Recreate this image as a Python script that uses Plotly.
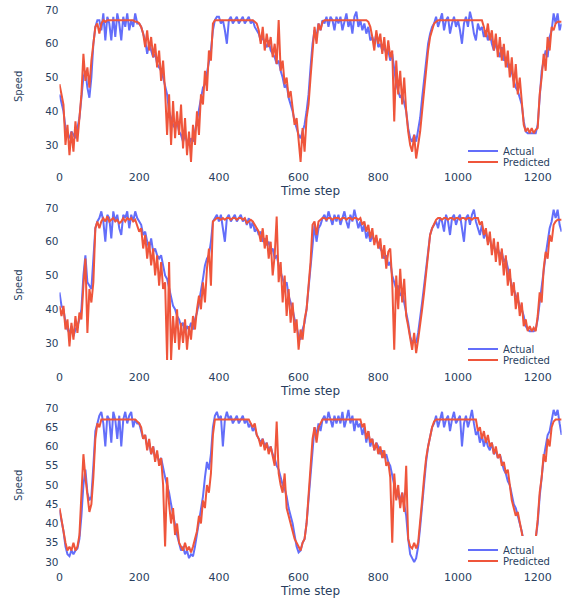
import plotly.graph_objects as go

time_step = list(range(0, 1261, 5))

actual_1 = (
    [45, 42, 40, 35, 33, 32, 34, 33, 32, 35, 38, 44, 50, 52, 47, 44, 50, 60, 65, 67]
    + [67, 64, 69, 61, 68, 66, 61, 68, 62, 69, 66, 61, 68, 65, 69, 64, 67, 65, 69, 66]
    + [66, 65, 63, 61, 57, 60, 58, 56, 57, 54, 53, 52, 50, 47, 45, 40, 38, 36, 35, 37]
    + [34, 33, 31, 33, 31, 30, 32, 31, 34, 37, 41, 44, 47, 48, 51, 54, 58, 64, 67, 68]
    + [68, 66, 67, 64, 60, 67, 68, 66, 67, 68, 66, 67, 68, 66, 67, 68, 66, 67, 65, 64]
    + [63, 61, 62, 60, 59, 61, 58, 57, 56, 54, 55, 52, 50, 47, 48, 44, 42, 40, 37, 35]
    + [33, 32, 34, 36, 40, 45, 53, 60, 64, 62, 66, 64, 67, 66, 68, 65, 68, 67, 64, 68]
    + [66, 68, 64, 67, 69, 65, 67, 63, 68, 69.5, 65, 67, 64, 66, 63, 65, 61, 62, 60, 63]
    + [59, 60, 58, 59, 57, 58, 55, 57, 52, 48, 46, 44, 45, 42, 40, 35, 32, 31, 33, 31]
    + [34, 38, 44, 50, 56, 60, 63, 65, 66, 68, 65, 67, 69, 64, 67, 68, 63, 66, 68, 65]
    + [67, 64, 60, 66, 68, 65, 69.5, 67, 63, 61, 66, 64, 65, 62, 64, 61, 63, 60, 58, 60]
    + [58, 56, 59, 55, 56, 53, 54, 51, 49, 47, 46, 44, 42, 37, 34, 33.5, 33.5, 33.5, 33.5, 33.5]
    + [36, 44, 52, 55, 58, 56, 62, 64, 69, 66, 69, 64, 66]
)
predicted_1 = (
    [48, 45, 42, 30, 36, 27, 34, 28, 37, 31, 38, 45, 57, 49, 53, 47, 55, 61, 65, 66]
    + [63, 66, 67, 66.5, 67, 67, 67, 67, 67, 67, 67, 67, 67, 67, 67, 67, 67, 67, 66.5, 66.5]
    + [66, 65, 63, 59, 64, 58, 62, 56, 60, 53, 58, 49, 55, 46, 33, 45, 30, 43, 32, 40]
    + [33, 42, 29, 38, 27, 34, 25, 36, 30, 40, 33, 45, 42, 52, 46, 58, 55, 66, 67, 67]
    + [67, 67, 67, 67, 67, 67, 67, 67, 67, 67, 67, 67, 67, 67, 67, 67, 67, 67, 66.5, 66]
    + [64, 60, 65, 58, 63, 59, 62, 56, 60, 54, 67, 52, 55, 48, 50, 44, 46, 40, 36, 38]
    + [31, 25, 35, 28, 38, 42, 50, 58, 65, 60, 66, 64, 66.5, 67, 67, 67, 67, 67, 67, 67]
    + [67, 67, 67, 67, 67, 67, 67, 67, 67, 67, 67, 67, 67, 67, 67, 66.5, 65, 62, 58, 64]
    + [60, 63, 57, 62, 55, 61, 56, 58, 37, 55, 45, 52, 42, 50, 40, 34, 30, 28, 33, 26]
    + [30, 34, 40, 46, 53, 58, 62, 64, 66, 66.5, 67, 67, 67, 67, 67, 67, 67, 67, 67, 67]
    + [67, 67, 67, 67, 67, 67, 67, 67, 67, 67, 67, 67, 67, 65, 62, 66, 61, 64, 58, 63]
    + [56, 62, 55, 60, 53, 58, 50, 56, 47, 54, 45, 50, 42, 36, 34, 35, 33.5, 35, 33.5, 34.5]
    + [35, 45, 50, 57, 52, 62, 58, 65, 64, 66, 66.5, 66.5, 66.5]
)
actual_2 = (
    [45, 41, 40, 36, 34, 33, 35, 32, 34, 35, 37, 40, 50, 56, 48, 47, 46, 55, 64, 66]
    + [67, 69, 66, 60, 68, 67, 61, 69, 66, 68, 64, 62, 68, 67, 69, 64, 68, 66, 69, 67]
    + [66, 65, 62, 63, 60, 58, 61, 57, 58, 56, 55, 56, 53, 50, 49, 46, 44, 41, 40, 38]
    + [37, 35, 36, 33, 35, 34, 36, 34, 37, 39, 42, 45, 49, 53, 55, 56, 60, 66, 67, 68]
    + [66, 68, 64, 60, 67, 68, 66, 67, 68, 66, 67, 68, 66, 67, 65, 67, 64, 66, 63, 64]
    + [62, 63, 60, 61, 59, 60, 57, 58, 55, 56, 53, 51, 49, 47, 48, 44, 42, 40, 37, 35]
    + [32, 31, 34, 36, 40, 46, 53, 60, 65, 60, 64, 65, 67, 68, 66, 69, 67, 65, 68, 66]
    + [68, 65, 67, 69, 66, 64, 68, 66, 69.5, 67, 64, 66, 63, 65, 61, 63, 60, 62, 60, 61]
    + [59, 58, 57, 55, 56, 53, 54, 50, 48, 46, 47, 44, 45, 42, 40, 36, 32, 30, 31, 30]
    + [33, 37, 42, 47, 52, 58, 62, 64, 65, 66, 64, 67, 66, 63, 68, 66, 62, 67, 68, 65]
    + [67, 68, 64, 60, 67, 68, 65, 68, 69.5, 66, 64, 62, 65, 61, 63, 60, 61, 58, 59, 57]
    + [58, 56, 57, 54, 55, 52, 50, 47, 46, 44, 43, 41, 40, 38, 35, 34, 33.5, 33.5, 33.5, 34]
    + [37, 42, 47, 52, 56, 60, 64, 66, 69.5, 67, 69.5, 65, 63]
)
predicted_2 = (
    [41, 38, 41, 34, 37, 29, 36, 31, 38, 33, 39, 37, 47, 55, 33, 46, 42, 48, 64, 66]
    + [64, 66, 67, 66, 67.5, 66, 66.5, 67, 66, 66.5, 65.5, 66, 67, 66, 67, 66.5, 67, 66, 66.5, 65]
    + [63, 64, 58, 62, 55, 60, 53, 58, 50, 56, 47, 54, 46, 48, 25, 54, 25, 38, 30, 40]
    + [28, 36, 30, 37, 28, 35, 31, 38, 34, 40, 44, 40, 48, 42, 52, 58, 47, 66, 66.5, 67]
    + [67, 66.5, 67, 66.5, 67, 67, 66.5, 67, 67, 66.5, 67, 67, 66.5, 67, 65.5, 66, 66.5, 66, 65, 64]
    + [63, 60, 64, 58, 62, 55, 60, 50, 56, 67.5, 48, 54, 42, 50, 38, 46, 36, 42, 33, 37]
    + [28, 34, 31, 37, 40, 47, 54, 65, 66, 62, 66, 66.5, 67, 67, 66.5, 67, 67, 66.5, 67, 67]
    + [67, 66.5, 67, 67, 66.5, 67, 67, 66.5, 67, 67, 66.5, 67, 65, 66, 63, 65, 61, 64, 59, 62]
    + [58, 61, 55, 59, 52, 57, 58, 48, 28, 50, 40, 52, 42, 49, 38, 35, 31, 28, 33, 27]
    + [31, 35, 40, 45, 51, 57, 62, 64, 65.5, 66.5, 67, 67, 66.5, 67, 67, 66.5, 67, 67, 66.5, 67]
    + [67, 66.5, 67, 67, 66.5, 67, 67, 66.5, 67, 67, 67, 65, 66, 62, 64, 59, 63, 56, 61, 54]
    + [60, 53, 58, 50, 56, 47, 52, 44, 48, 40, 45, 38, 42, 35, 37, 33.5, 35, 33.5, 34.5, 33.5]
    + [38, 45, 42, 52, 57, 55, 62, 60, 65, 66, 66.5, 66.5, 66.5]
)
actual_3 = (
    [43.5, 41, 38, 34, 32, 31.5, 33, 32, 33, 33.5, 36, 42, 50, 54, 48, 46, 47, 55, 64, 66]
    + [68, 69, 66, 60, 68, 67, 61, 69, 67, 62, 68, 60, 67, 69, 66, 68, 69, 65, 67, 66]
    + [66, 64, 62, 63, 60, 61, 58, 60, 57, 58, 56, 57, 54, 52, 50, 48, 45, 42, 39, 37]
    + [35, 33, 34, 32, 33, 31, 32, 31.5, 34, 37, 40, 44, 47, 52, 56, 54, 58, 65, 68, 69]
    + [67, 68, 60, 67, 69, 67, 68, 66, 67, 68, 66, 67, 68, 66, 67, 65, 66, 64, 65, 63]
    + [62, 61, 62, 60, 61, 59, 60, 58, 57, 55, 54, 52, 50, 49, 47, 44, 42, 40, 37, 34]
    + [32.5, 33, 35, 36, 40, 46, 53, 60, 65, 63, 66, 64, 67, 68, 66, 69, 67, 65, 68, 66]
    + [68, 66, 69, 65, 67, 69.5, 66, 68, 64, 67, 65, 66, 63, 65, 61, 64, 60, 62, 59, 61]
    + [60, 58, 59, 57, 58, 56, 55, 52, 50, 48, 47, 46, 48, 45, 42, 36, 32, 31, 30, 31]
    + [34, 39, 45, 51, 56, 60, 63, 65, 66, 68, 65, 67, 69, 65, 67, 68, 64, 67, 69, 66]
    + [67, 68, 60, 66, 68, 65, 67, 69.5, 66, 63, 64, 61, 63, 60, 62, 60, 59, 61, 58, 59]
    + [57, 58, 56, 54, 53, 51, 50, 47, 45, 44, 42, 40, 38, 35, 33.5, 33.5, 33.5, 33.5, 33.5, 36]
    + [40, 47, 53, 57, 60, 63, 64, 67, 69.5, 68, 69.5, 66, 63]
)
predicted_3 = (
    [44, 41, 37, 35, 33, 34, 33, 35, 33, 34, 37, 46, 58, 52, 48, 43, 45, 52, 62, 66]
    + [65, 67, 67, 67, 67, 67, 67, 67, 67, 67, 67, 67, 67, 67, 67, 67, 67, 67, 67, 66.5]
    + [66, 65, 62, 63, 59, 62, 58, 60, 56, 59, 55, 57, 50, 34, 52, 45, 40, 44, 37, 40]
    + [35, 34, 33, 35, 33, 34, 32.5, 34, 36, 38, 42, 40, 46, 44, 50, 48, 53, 63, 67, 67]
    + [67, 67, 67, 67, 67, 67, 67, 67, 67, 67, 67, 67, 67, 67, 67, 67, 66, 65, 66, 63]
    + [62, 60, 62, 59, 61, 58, 60, 57, 55, 66.5, 53, 50, 48, 53, 44, 42, 40, 38, 36, 35]
    + [34, 33, 35, 36, 40, 47, 54, 62, 65, 61, 65, 66, 67, 67, 67, 67, 67, 67, 67, 67]
    + [67, 67, 67, 67, 67, 67, 67, 67, 67, 67, 67, 67, 65, 66, 62, 64, 61, 62, 59, 61]
    + [58, 60, 57, 59, 55, 56, 52, 35, 53, 46, 50, 44, 48, 43, 55, 36, 34, 33.5, 35, 33.5]
    + [35, 40, 46, 52, 57, 60, 63, 65, 66.5, 67, 67, 67, 67, 67, 67, 67, 67, 67, 67, 67]
    + [67, 67, 67, 67, 67, 67, 67, 67, 67, 67, 64, 65, 62, 64, 61, 63, 60, 61, 58, 60]
    + [57, 58, 55, 56, 53, 54, 50, 46, 44, 42, 43, 40, 38, 35, 33.5, 34, 33.5, 34, 33.5, 36]
    + [41, 48, 52, 58, 56, 62, 60, 65, 66.5, 67, 67, 67, 67]
)

series_names = ["Actual", "Predicted"]
x_ticks = [0, 200, 400, 600, 800, 1000, 1200]

for s in (actual_1, predicted_1, actual_2, predicted_2, actual_3, predicted_3):
    assert len(s) == len(time_step), len(s)

W, H = 565, 599


def py(px):
    return (H - px) / H


panels = [
    dict(a=actual_1, p=predicted_1, top=3.6, bot=169, yr=[22.89, 71.9], dt=10,
         leg=(151, 162)),
    dict(a=actual_2, p=predicted_2, top=201, bot=369, yr=[22.30, 72.07], dt=10,
         leg=(349, 360)),
    dict(a=actual_3, p=predicted_3, top=401.5, bot=569, yr=[28.18, 71.69], dt=5,
         leg=(550, 561)),
]

BLUE = "#636efa"
RED = "#EF553B"
FONT_COLOR = "#2a3f5f"
fig = go.Figure()
layout = dict(
    width=W, height=H,
    margin=dict(l=0, r=0, t=0, b=0),
    paper_bgcolor="white", plot_bgcolor="white",
    font=dict(family="DejaVu Sans", size=11, color=FONT_COLOR),
    showlegend=True,
)
xdom = [59.5 / W, 561.6 / W]
for i, pn in enumerate(panels):
    n = i + 1
    xa = "x" if n == 1 else f"x{n}"
    ya = "y" if n == 1 else f"y{n}"
    la = "legend" if 2 * i == 0 else f"legend{2 * i + 1}"
    lb = f"legend{2 * i + 2}"
    fig.add_trace(go.Scatter(x=time_step, y=pn["a"], mode="lines", name=series_names[0],
                             line=dict(color=BLUE, width=2), xaxis=xa, yaxis=ya, legend=la))
    fig.add_trace(go.Scatter(x=time_step, y=pn["p"], mode="lines", name=series_names[1],
                             line=dict(color=RED, width=2), xaxis=xa, yaxis=ya, legend=lb))
    xkey = "xaxis" if n == 1 else f"xaxis{n}"
    ykey = "yaxis" if n == 1 else f"yaxis{n}"
    layout[xkey] = dict(domain=xdom, range=[0, 1260], tickvals=x_ticks, anchor=ya,
                        showgrid=False, zeroline=False, showline=False, ticks="",
                        automargin=False, tickfont=dict(size=11),
                        title=dict(text="Time step", font=dict(size=12), standoff=2))
    layout[ykey] = dict(domain=[py(pn["bot"]), py(pn["top"])], range=pn["yr"], dtick=pn["dt"],
                        anchor=xa, showgrid=False, zeroline=False, showline=False, ticks="",
                        automargin=False, tickfont=dict(size=10.5),
                        title=dict(text="Speed", font=dict(size=10), standoff=20))
    bg_a = "white" if n == 3 else "rgba(0,0,0,0)"
    layout[la] = dict(x=463 / W, xanchor="left", y=py(pn["leg"][0]), yanchor="middle",
                      bgcolor=bg_a, borderwidth=0, font=dict(size=10))
    layout[lb] = dict(x=463 / W, xanchor="left", y=py(pn["leg"][1]), yanchor="middle",
                      bgcolor="rgba(0,0,0,0)", borderwidth=0, font=dict(size=10))

fig.update_layout(**layout)
fig.write_html("out.html", config={"displayModeBar": False},
               post_script="document.body.style.margin = '0';")
